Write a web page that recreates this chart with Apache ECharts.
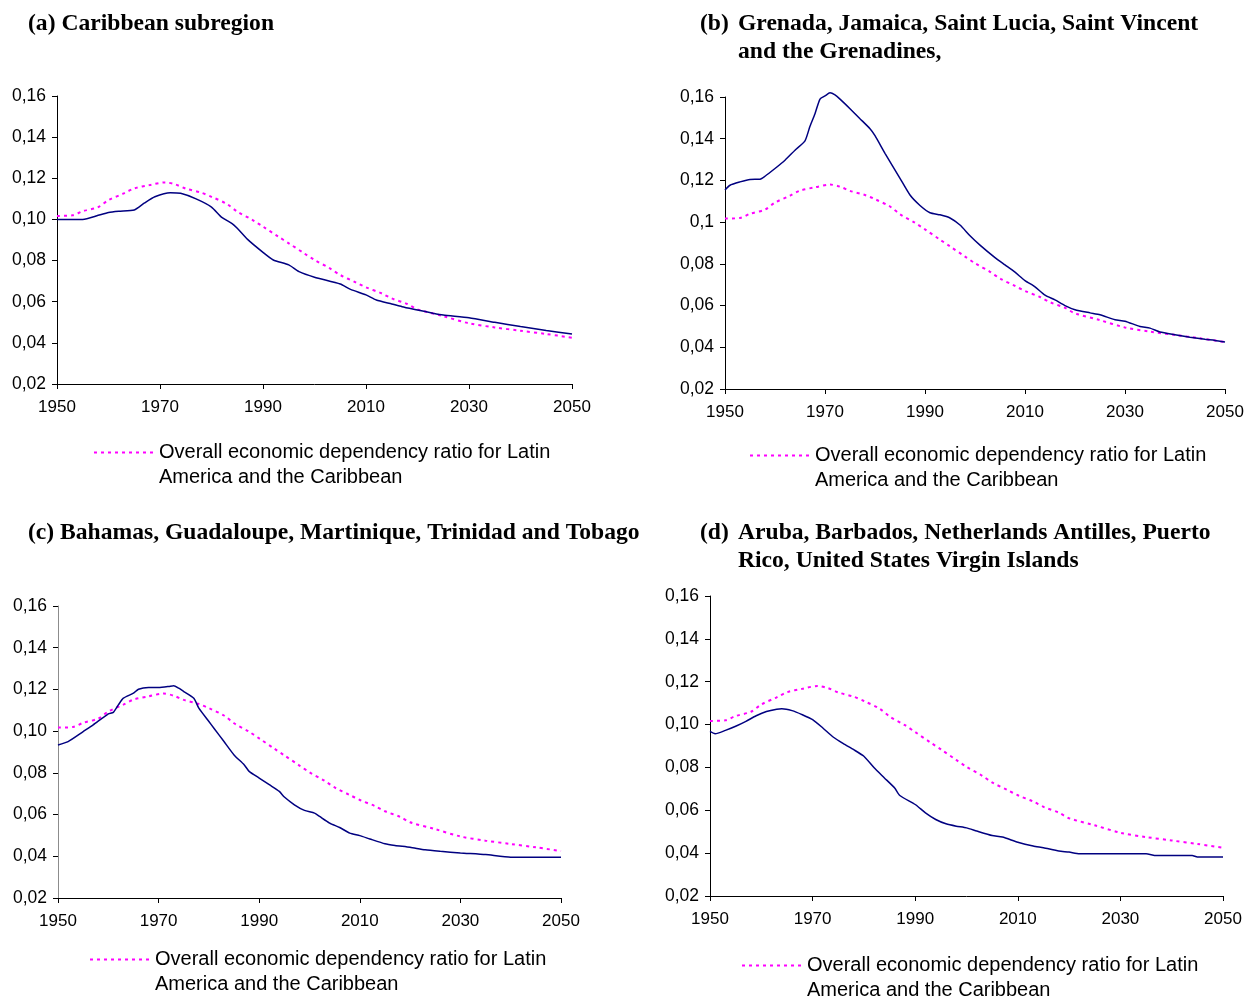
<!DOCTYPE html>
<html>
<head>
<meta charset="utf-8">
<script src="https://cdn.jsdelivr.net/npm/echarts@6/dist/echarts.min.js"></script>
<style>
  html, body { margin: 0; padding: 0; background: #ffffff; }
  #chart { width: 1255px; height: 998px; }
</style>
</head>
<body>
<div id="chart"></div>
<script>
// Overall economic dependency ratio, Latin America and the Caribbean (reference curve in every panel)
var lacYears  = [1950,1953,1955,1958,1960,1963,1965,1968,1971,1973,1975,1978,1980,1983,1985,1988,1990,1993,1995,1998,2000,2003,2005,2008,2010,2013,2015,2018,2020,2025,2030,2035,2040,2045,2050];
var lacValues = [0.1017,0.102,0.104,0.106,0.1094,0.1127,0.1151,0.1167,0.118,0.117,0.115,0.113,0.111,0.1075,0.1038,0.0997,0.0965,0.0916,0.0884,0.0835,0.0803,0.0762,0.073,0.0694,0.067,0.0641,0.0616,0.0589,0.0563,0.053,0.0495,0.0475,0.0459,0.0443,0.0425];

// (a) Caribbean subregion
var aYears  = [1950,1955,1958,1960,1962,1965,1967,1969,1972,1974,1977,1980,1982,1984,1985,1987,1990,1992,1995,1997,2000,2005,2007,2010,2012,2015,2017,2020,2023,2025,2030,2035,2040,2045,2050];
var aValues = [0.100,0.100,0.102,0.1034,0.104,0.1046,0.108,0.111,0.113,0.1127,0.110,0.106,0.101,0.098,0.0957,0.0903,0.084,0.0803,0.0779,0.0746,0.0719,0.0686,0.066,0.0633,0.0608,0.0589,0.0576,0.056,0.0544,0.0535,0.0522,0.050,0.0479,0.046,0.0443];

// (b) Grenada, Jamaica, Saint Lucia, Saint Vincent and the Grenadines
var bYears  = [1950,1951,1953,1955,1957,1958,1960,1962,1964,1966,1967,1968,1969,1970,1971,1972,1973,1975,1977,1979,1980,1982,1985,1987,1989,1991,1993,1995,1997,1999,2001,2004,2006,2008,2010,2012,2014,2016,2018,2020,2023,2025,2028,2030,2033,2035,2037,2040,2043,2046,2048,2050];
var bValues = [0.1154,0.1177,0.1193,0.1205,0.1206,0.122,0.1257,0.1297,0.1345,0.139,0.146,0.152,0.159,0.1605,0.162,0.161,0.159,0.1544,0.1496,0.1448,0.1415,0.133,0.121,0.113,0.108,0.1045,0.1035,0.102,0.0986,0.0935,0.089,0.083,0.0795,0.076,0.072,0.069,0.065,0.0627,0.060,0.058,0.0565,0.0556,0.0532,0.0525,0.050,0.0492,0.0473,0.046,0.0448,0.0438,0.0433,0.0425];

// (c) Bahamas, Guadaloupe, Martinique, Trinidad and Tobago
var cYears  = [1950,1952,1955,1957,1960,1961,1962,1963,1965,1966,1968,1970,1972,1973,1974,1975,1977,1978,1980,1981,1983,1985,1987,1988,1990,1992,1994,1995,1997,1999,2001,2002,2004,2006,2008,2010,2012,2015,2017,2020,2023,2026,2030,2035,2040,2045,2050];
var cValues = [0.0934,0.095,0.0998,0.103,0.1083,0.109,0.1126,0.1158,0.1182,0.1201,0.1209,0.1209,0.1214,0.1218,0.1206,0.119,0.1158,0.111,0.1046,0.1014,0.095,0.0886,0.0839,0.0807,0.0775,0.0743,0.0711,0.0684,0.0647,0.062,0.0607,0.0591,0.0559,0.0538,0.0511,0.0499,0.0483,0.046,0.0452,0.0443,0.0431,0.0424,0.0416,0.0408,0.0395,0.0395,0.0395];

// (d) Aruba, Barbados, Netherlands Antilles, Puerto Rico, United States Virgin Islands
var dYears  = [1950,1951,1953,1955,1957,1959,1961,1963,1964,1966,1968,1970,1972,1974,1976,1978,1980,1982,1984,1986,1987,1990,1992,1994,1996,1998,2000,2002,2005,2007,2010,2013,2015,2018,2020,2022,2025,2030,2035,2037,2040,2044,2045,2050];
var dValues = [0.0968,0.0957,0.0973,0.0992,0.1015,0.1041,0.1061,0.1072,0.1074,0.1065,0.1046,0.1023,0.0984,0.0942,0.0911,0.0883,0.0852,0.0798,0.0751,0.0704,0.0669,0.0627,0.0588,0.0557,0.0537,0.0526,0.0518,0.0503,0.0482,0.0475,0.0451,0.0433,0.0425,0.041,0.0405,0.0397,0.0397,0.0397,0.0397,0.0389,0.0389,0.0389,0.0382,0.0382];

var panelTitles = [
  { tag: '(a) Caribbean subregion', text: '' },
  { tag: '(b)', text: 'Grenada, Jamaica, Saint Lucia, Saint Vincent\nand the Grenadines,' },
  { tag: '(c) Bahamas, Guadaloupe, Martinique, Trinidad and Tobago', text: '' },
  { tag: '(d)', text: 'Aruba, Barbados, Netherlands Antilles, Puerto\nRico, United States Virgin Islands' }
];
var lacName = 'Overall economic dependency ratio for Latin America and the Caribbean';
var lacLegendLines = ['Overall economic dependency ratio for Latin', 'America and the Caribbean'];

function pairs(xs, ys) {
  return xs.map(function (x, i) { return [x, ys[i]]; });
}

var grids = [
  { left: 57,  top: 96,  width: 515, height: 288 },
  { left: 725, top: 97,  width: 500, height: 292 },
  { left: 58,  top: 606, width: 503, height: 292 },
  { left: 710, top: 596, width: 513, height: 300 }
];
var blueSets = [[aYears, aValues], [bYears, bValues], [cYears, cValues], [dYears, dValues]];

var titleFont = { fontFamily: 'Liberation Serif', fontWeight: 'bold', fontSize: 23.6, color: '#000', lineHeight: 28 };
var titles = [
  { text: panelTitles[0].tag, left: 28, top: 10, padding: 0, textStyle: titleFont },
  { text: panelTitles[1].tag, left: 700, top: 10, padding: 0, textStyle: titleFont },
  { text: panelTitles[1].text, left: 738, top: 10, padding: 0, textStyle: titleFont },
  { text: panelTitles[2].tag, left: 28, top: 519, padding: 0, textStyle: titleFont },
  { text: panelTitles[3].tag, left: 700, top: 519, padding: 0, textStyle: titleFont },
  { text: panelTitles[3].text, left: 738, top: 519, padding: 0, textStyle: titleFont }
];

var legendPos = [
  { left: 93,  iconY: 452 },
  { left: 749, iconY: 455 },
  { left: 89,  iconY: 959 },
  { left: 741, iconY: 965 }
];

var xAxes = [], yAxes = [], series = [], legends = [];
grids.forEach(function (g, i) {
  var axisColor = (i === 2) ? '#8c8c8c' : '#000';
  xAxes.push({
    gridIndex: i, type: 'value', min: 1950, max: 2050, interval: 20,
    axisLine: { show: true, onZero: false, lineStyle: { color: '#000', width: 1 } },
    axisTick: { show: true, length: 5, lineStyle: { color: '#000' } },
    axisLabel: {
      margin: 15, fontFamily: 'Liberation Sans', fontSize: 17, color: '#000',
      formatter: function (v) { return String(v); }
    },
    splitLine: { show: false }
  });
  yAxes.push({
    gridIndex: i, type: 'value', min: 0.02, max: 0.16, interval: 0.02,
    axisLine: { show: true, lineStyle: { color: axisColor, width: 1 } },
    axisTick: { show: true, length: 5, lineStyle: { color: '#000' } },
    axisLabel: {
      margin: 11, fontFamily: 'Liberation Sans', fontSize: 17.5, color: '#000',
      formatter: function (v) {
        var s = (Math.round(v * 100) / 100).toFixed(2);
        if (i === 1 && s === '0.10') s = '0.1';
        return s.replace('.', ',');
      }
    },
    splitLine: { show: false }
  });
  series.push({
    name: lacName, type: 'line', xAxisIndex: i, yAxisIndex: i,
    data: pairs(lacYears, lacValues), smooth: 0.3, showSymbol: false, symbol: 'none',
    clip: false,
    lineStyle: { color: '#ff00ff', width: 2, type: [3, 4] },
    itemStyle: { color: '#ff00ff' }, silent: true, z: 2
  });
  series.push({
    name: 'panel' + i, type: 'line', xAxisIndex: i, yAxisIndex: i,
    data: pairs(blueSets[i][0], blueSets[i][1]), smooth: 0.2, showSymbol: false, symbol: 'none',
    clip: false,
    lineStyle: { color: '#000080', width: 1.5 },
    itemStyle: { color: '#000080' }, silent: true, z: 3
  });
  legends.push({
    data: [lacName], left: legendPos[i].left, top: legendPos[i].iconY - 37,
    padding: 0, itemWidth: 60, itemHeight: 10, selectedMode: false,
    itemStyle: { opacity: 0 },
    // a leading blank line keeps the first text line level with the dotted sample
    formatter: function () { return ' \n' + lacLegendLines.join('\n'); },
    textStyle: { fontFamily: 'Liberation Sans', fontSize: 20, color: '#000', lineHeight: 25 }
  });
});

var chart = echarts.init(document.getElementById('chart'), null, { renderer: 'canvas' });
chart.setOption({
  backgroundColor: '#ffffff',
  animation: false,
  title: titles,
  legend: legends,
  grid: grids,
  xAxis: xAxes,
  yAxis: yAxes,
  series: series
});
</script>
</body>
</html>
